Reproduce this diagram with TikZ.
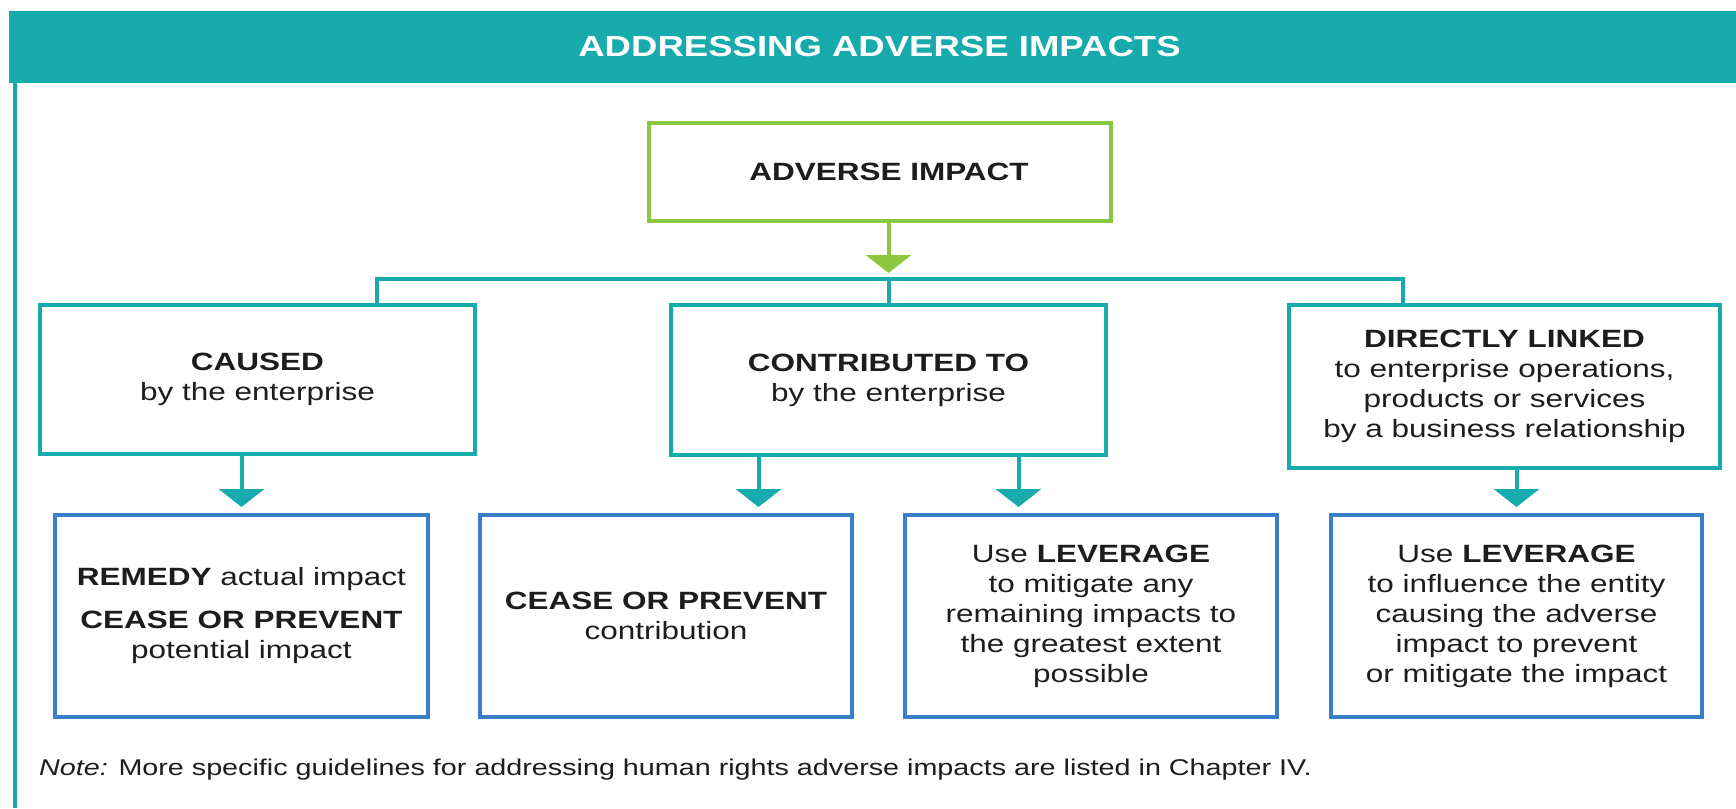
\documentclass[tikz,border=0pt]{standalone}
\usepackage{fontspec}
\setmainfont{Liberation Sans}[FakeStretch=1.26]
\usetikzlibrary{arrows.meta,calc}
\definecolor{tealc}{RGB}{23,171,174}
\definecolor{greenc}{RGB}{141,198,63}
\definecolor{bluec}{RGB}{58,125,200}
\definecolor{ink}{RGB}{30,28,30}
\begin{document}
\begin{tikzpicture}[x=1pt,y=-1pt,
  box/.style={draw, line width=4pt, inner sep=0pt, align=center, text=ink,
    font=\fontsize{25}{30}\selectfont},
  topbox/.style={box, draw=greenc},
  midbox/.style={box, draw=tealc},
  lowbox/.style={box, draw=bluec},
  conn/.style={draw=tealc, line width=4pt},
  arr/.style={line width=4pt, -{Triangle[width=45pt,length=18pt]}, shorten >=6pt}]
\useasboundingbox (0,0) rectangle (1736,808);
% header
\fill[tealc] (9,11) rectangle (1736,83);
\node[text=white, font=\bfseries\fontsize{29}{34}\selectfont] (title) at (879.5,47) {ADDRESSING ADVERSE IMPACTS};
\draw[tealc, line width=4pt] (15,83) -- (15,808);
% boxes
\node[topbox, minimum width=462pt, minimum height=98pt] (adverse) at (880,172) {\hspace*{18pt}\textbf{ADVERSE IMPACT}};
\node[midbox, minimum width=435pt, minimum height=149pt] (caused) at (257.5,379.5) {\textbf{CAUSED}\\by the enterprise};
\node[midbox, minimum width=435pt, minimum height=150pt] (contrib) at (888.5,380) {\textbf{CONTRIBUTED TO}\\by the enterprise};
\node[midbox, minimum width=431pt, minimum height=163pt] (direct) at (1504.5,386.5) {\textbf{DIRECTLY LINKED}\\to enterprise operations,\\products or services\\by a business relationship};
\node[lowbox, minimum width=373pt, minimum height=202pt] (remedy) at (241.5,616) {\textbf{REMEDY} actual impact\\[13pt]\textbf{CEASE OR PREVENT}\\potential impact};
\node[lowbox, minimum width=372pt, minimum height=202pt] (cease) at (666,616) {\textbf{CEASE OR PREVENT}\\contribution};
\node[lowbox, minimum width=372pt, minimum height=202pt] (lev1) at (1091,616) {Use \textbf{LEVERAGE}\\to mitigate any\\remaining impacts to\\the greatest extent\\possible};
\node[lowbox, minimum width=371pt, minimum height=202pt] (lev2) at (1516.5,616) {Use \textbf{LEVERAGE}\\to influence the entity\\causing the adverse\\impact to prevent\\or mitigate the impact};
% connectors
\coordinate (hl) at (377,279);
\coordinate (hr) at (1403,279);
\coordinate (hm) at (contrib.north |- hl);
\draw[conn] (hl |- caused.north) -- (hl) -- (hr) -- (hr |- direct.north);
\draw[conn] (hm) -- (contrib.north);
\draw[arr, greenc] (adverse.south -| hm) -- (hm);
\draw[arr, tealc] (caused.south -| remedy.north) -- (remedy.north);
\coordinate (ca) at ([xshift=-130pt]contrib.south);
\coordinate (cb) at ([xshift=130pt]contrib.south);
\draw[arr, tealc] (ca) -- (ca |- cease.north);
\draw[arr, tealc] (cb) -- (cb |- lev1.north);
\draw[arr, tealc] (direct.south -| lev2.north) -- (lev2.north);
% note
\node[anchor=base west, inner sep=0pt, text=ink, font=\fontsize{22.8}{28}\selectfont] (note) at (39,775) {\textit{Note:} More specific guidelines for addressing human rights adverse impacts are listed in Chapter IV.};
\end{tikzpicture}
\end{document}
